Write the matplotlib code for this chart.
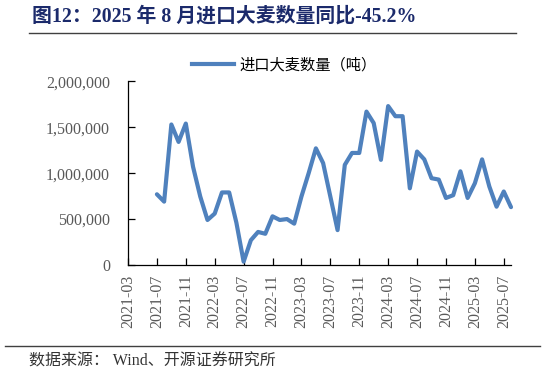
import numpy as np
import pandas as pd
from matplotlib import pyplot as plt
from matplotlib.lines import Line2D

plt.rcParams['font.family'] = ['Liberation Serif', 'Noto Sans CJK SC', 'DejaVu Sans']

# monthly barley imports (tonnes), 2021-07 .. 2025-08
months = pd.date_range('2021-03-01', '2025-08-01', freq='MS').strftime('%Y-%m').tolist()
imports = [770000, 690000, 1530000, 1340000, 1540000, 1070000, 745000, 490000,
           560000, 790000, 790000, 460000, 36000, 270000, 360000, 340000,
           530000, 490000, 500000, 450000, 745000, 1000000, 1270000, 1110000,
           745000, 380000, 1090000, 1220000, 1220000, 1670000, 1545000, 1145000,
           1730000, 1620000, 1620000, 835000, 1235000, 1150000, 945000, 930000,
           730000, 760000, 1020000, 730000, 890000, 1150000, 855000, 635000,
           800000, 630000]
series = [np.nan] * (len(months) - len(imports)) + imports

title = '图12：2025 年 8 月进口大麦数量同比-45.2%'
legend_label = '进口大麦数量（吨）'
source = '数据来源： Wind、开源证券研究所'

fig = plt.figure(figsize=(5.46, 3.76), dpi=100)
ax = fig.add_axes([128/546, 1 - 265/376, (511 - 128)/546, (265 - 81.3)/376])

x = np.arange(len(months))
line, = ax.plot(x, series, color='#4f81bd', lw=3, solid_joinstyle='round',
                solid_capstyle='round', clip_on=False)

ax.set_xlim(0, len(months) - 1)
ax.set_ylim(0, 2000000)
ax.set_yticks(np.arange(0, 2000001, 500000))
ax.yaxis.set_major_formatter(plt.FuncFormatter(lambda v, p: f'{int(v):,}'))
ax.set_xticks(x[::4])
ax.set_xticklabels(months[::4], rotation=90)

for s in ['top', 'right']:
    ax.spines[s].set_visible(False)
for s in ['left', 'bottom']:
    ax.spines[s].set_color('black')
    ax.spines[s].set_linewidth(0.9)
ax.tick_params(axis='y', direction='in', length=5, pad=13, labelsize=11.5,
               labelcolor='#595959', width=0.9)
ax.tick_params(axis='x', direction='in', length=5, pad=7, labelsize=11.5,
               labelcolor='#595959', width=0.9)

ax.legend([Line2D([], [], color='#4f81bd', lw=3)], [legend_label],
          loc='center', bbox_to_anchor=(284/546, 1 - 65/376),
          bbox_transform=fig.transFigure, frameon=False, fontsize=11,
          handlelength=2.8, handletextpad=0.3)

fig.text(32/546, 1 - 17/376, title, fontsize=14.3, fontweight='bold',
         color='#1b2a6b', va='center', ha='left')
fig.add_artist(Line2D([29/546, 516/546], [1 - 33/376, 1 - 33/376],
                      color='#404040', lw=1))
fig.add_artist(Line2D([5/546, 540/546], [1 - 346/376, 1 - 346/376],
                      color='#404040', lw=1))
fig.text(29/546, 1 - 362/376, source, fontsize=11.5, color='#333333',
         va='center', ha='left')

fig.savefig('out.png', dpi=100)
